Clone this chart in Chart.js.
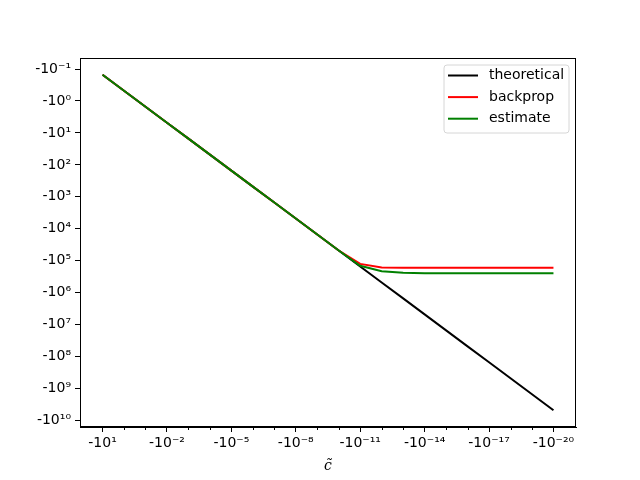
<!DOCTYPE html>
<html>
<head>
<meta charset="utf-8">
<script src="https://cdn.jsdelivr.net/npm/chart.js@4"></script>
<style>
  body { margin: 0; background: #fff; }
  canvas { display: block; }
</style>
</head>
<body>
<canvas id="chart" width="640" height="480"></canvas>
<script>
// values are plotted as exponents k, the axes show -10^k
const xExps = [1, 0, -1, -2, -3, -4, -5, -6, -7, -8, -9, -10, -11, -12, -13, -14, -15, -16, -17, -18, -19, -20];
const theoretical = [-0.82, -0.32, 0.18, 0.68, 1.18, 1.68, 2.18, 2.68, 3.18, 3.68, 4.18, 4.68, 5.18, 5.68, 6.18, 6.68, 7.18, 7.68, 8.18, 8.68, 9.18, 9.68];
const backprop = [-0.82, -0.32, 0.18, 0.68, 1.18, 1.68, 2.18, 2.68, 3.18, 3.68, 4.18, 4.68, 5.10, 5.21, 5.22, 5.22, 5.22, 5.22, 5.22, 5.22, 5.22, 5.22];
const estimate = [-0.82, -0.32, 0.18, 0.68, 1.18, 1.68, 2.18, 2.68, 3.18, 3.68, 4.18, 4.68, 5.16, 5.33, 5.38, 5.39, 5.39, 5.39, 5.39, 5.39, 5.39, 5.39];
const xTickExps = [1, -2, -5, -8, -11, -14, -17, -20];
const yTickExps = [-1, 0, 1, 2, 3, 4, 5, 6, 7, 8, 9, 10];

const seriesNames = ["theoretical", "backprop", "estimate"];
const seriesColors = ["#000000", "#ff0000", "#008000"];

const FONT = "DejaVu Sans";
const sup = { "-": "\u207B", "0": "\u2070", "1": "\u00B9", "2": "\u00B2", "3": "\u00B3",
  "4": "\u2074", "5": "\u2075", "6": "\u2076", "7": "\u2077", "8": "\u2078", "9": "\u2079" };

function negPow(k) {
  return "-10" + String(k).split("").map(c => sup[c]).join("");
}

function points(arr) {
  return xExps.map((x, i) => ({ x: x, y: arr[i] }));
}

// frame, minor ticks and legend box
const extras = {
  id: "extras",
  afterDraw(chart) {
    const { ctx, chartArea: a, scales } = chart;
    ctx.save();
    ctx.strokeStyle = "#000";
    ctx.lineWidth = 1;
    ctx.strokeRect(a.left + 0.5, a.top + 0.5, a.right - a.left - 1, a.bottom - a.top - 1);

    xExps.filter(v => !xTickExps.includes(v)).forEach(v => {
      const px = Math.round(scales.x.getPixelForValue(v)) + 0.5;
      ctx.beginPath();
      ctx.moveTo(px, a.bottom);
      ctx.lineTo(px, a.bottom + 3);
      ctx.stroke();
    });

    // legend
    const bx = 444, by = 65, bw = 125, bh = 68, r = 3;
    ctx.beginPath();
    ctx.moveTo(bx + r, by);
    ctx.arcTo(bx + bw, by, bx + bw, by + bh, r);
    ctx.arcTo(bx + bw, by + bh, bx, by + bh, r);
    ctx.arcTo(bx, by + bh, bx, by, r);
    ctx.arcTo(bx, by, bx + bw, by, r);
    ctx.closePath();
    ctx.fillStyle = "rgba(255,255,255,0.8)";
    ctx.fill();
    ctx.strokeStyle = "#d6d6d6";
    ctx.stroke();

    ctx.font = "14px '" + FONT + "'";
    ctx.textBaseline = "middle";
    ctx.fillStyle = "#000";
    chart.data.datasets.forEach((ds, i) => {
      const ly = 75.5 + i * 21.6;
      ctx.strokeStyle = ds.borderColor;
      ctx.lineWidth = 2;
      ctx.beginPath();
      ctx.moveTo(448, ly);
      ctx.lineTo(478, ly);
      ctx.stroke();
      ctx.fillText(ds.label, 489, ly);
    });
    ctx.restore();
  }
};

new Chart(document.getElementById("chart"), {
  type: "line",
  data: {
    datasets: [
      { label: seriesNames[0], data: points(theoretical), borderColor: seriesColors[0], order: 2 },
      { label: seriesNames[1], data: points(backprop), borderColor: seriesColors[1], order: 1 },
      { label: seriesNames[2], data: points(estimate), borderColor: seriesColors[2], order: 0 },
    ]
  },
  plugins: [extras],
  options: {
    responsive: false,
    animation: false,
    layout: { padding: { top: 58, right: 64, left: 0, bottom: 0 } },
    elements: {
      point: { radius: 0 },
      line: { borderWidth: 2, tension: 0, fill: false }
    },
    plugins: {
      legend: { display: false },
      tooltip: { enabled: false }
    },
    scales: {
      x: {
        type: "linear",
        min: -21.05,
        max: 2.05,
        reverse: true,
        afterBuildTicks: s => { s.ticks = xTickExps.map(v => ({ value: v })); },
        afterFit: s => { s.height = 53; },
        ticks: {
          callback: v => negPow(v),
          color: "#000",
          font: { family: FONT, size: 14 },
          padding: 3,
          maxRotation: 0,
          autoSkip: false
        },
        grid: { drawOnChartArea: false, drawTicks: true, tickLength: 5, color: "#000" },
        border: { display: true, color: "#000" },
        title: {
          display: true,
          text: "c\u0303",
          color: "#000",
          font: { family: "DejaVu Serif", style: "italic", size: 14 },
          padding: { top: 0, bottom: 5 }
        }
      },
      y: {
        type: "linear",
        min: -1.345,
        max: 10.205,
        reverse: true,
        afterBuildTicks: s => { s.ticks = yTickExps.map(v => ({ value: v })); },
        afterFit: s => { s.width = 80; },
        ticks: {
          callback: v => negPow(v),
          color: "#000",
          font: { family: FONT, size: 14 },
          padding: 4,
          autoSkip: false
        },
        grid: { drawOnChartArea: false, drawTicks: true, tickLength: 5, color: "#000" },
        border: { display: true, color: "#000" }
      }
    }
  }
});
</script>
</body>
</html>
